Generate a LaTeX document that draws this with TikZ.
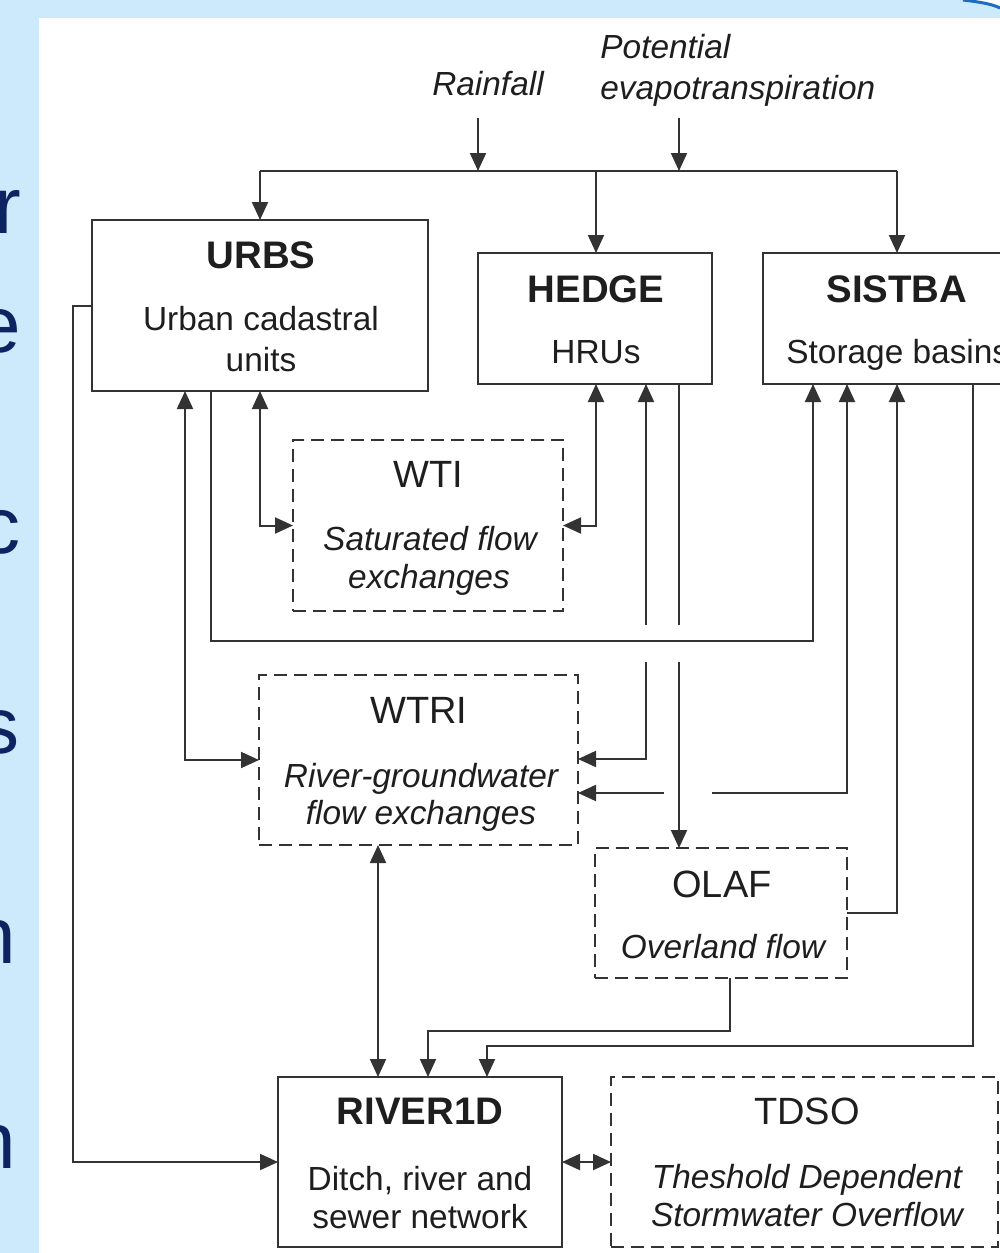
\documentclass[tikz,border=0pt]{standalone}
\usepackage{fontspec}
\setmainfont{Liberation Sans}
\usetikzlibrary{arrows.meta}
\definecolor{bg}{HTML}{CCEAFB}
\definecolor{ln}{HTML}{333333}
\definecolor{tx}{HTML}{1E1E1E}
\definecolor{navy}{HTML}{0C2461}
\definecolor{framec}{HTML}{1C6DC0}
\begin{document}
\begin{tikzpicture}[x=0.5pt,y=-0.5pt,
  box/.style={draw=ln,line width=1pt,inner sep=0pt,outer sep=0pt},
  dbox/.style={box,dash pattern=on 6.5pt off 3.5pt},
  ttlb/.style={font=\fontsize{19.2}{23}\selectfont\bfseries,text=tx,anchor=base,inner sep=0pt},
  ttln/.style={font=\fontsize{19}{23}\selectfont,text=tx,anchor=base,inner sep=0pt},
  subn/.style={font=\fontsize{16.7}{20}\selectfont,text=tx,anchor=base,inner sep=0pt},
  subi/.style={font=\fontsize{16.7}{20}\selectfont\itshape,text=tx,anchor=base,inner sep=0pt},
  big/.style={font=\fontsize{40}{48}\selectfont,text=navy,anchor=base east,inner sep=0pt},
  conn/.style={draw=ln,line width=1pt},
  arr/.style={conn,-{Triangle[length=9pt,width=8pt]}},
  darr/.style={conn,{Triangle[length=9pt,width=8pt]}-{Triangle[length=9pt,width=8pt]}},
  gap/.style={draw=white,line width=5pt}]
\useasboundingbox (0,0) rectangle (1000,1253);
\clip (0,0) rectangle (1000,1253);
% background
\fill[bg] (0,0) rectangle (1000,1253);
\fill[white] (39,18) rectangle (1000,1253);
\fill[white] (963,0) .. controls (980,2) and (992,4) .. (1000,8) -- (1000,0) -- cycle;
\draw[framec,line width=1.5pt] (963,0) .. controls (980,2) and (992,4) .. (1000,8);
% cut-off slide letters
\node[big] (l1) at (22,233) {r};
\node[big] (l2) at (21,352) {e};
\node[big] (l3) at (21,553) {c};
\node[big] (l4) at (20,753) {s};
\node[big] (l5) at (16,963) {n};
\node[big] (l6) at (16,1168) {n};
% boxes
\node[box,minimum width=168pt,minimum height=85.5pt] (urbs) at (260,305.5) {};
\node[box,minimum width=117pt,minimum height=65.5pt] (hedge) at (595,318.5) {};
\node[box,minimum width=138.5pt,minimum height=65.5pt] (sistba) at (901.5,318.5) {};
\node[dbox,minimum width=135pt,minimum height=85.5pt] (wti) at (428,525.5) {};
\node[dbox,minimum width=159.5pt,minimum height=85pt] (wtri) at (418.5,760) {};
\node[dbox,minimum width=126pt,minimum height=65pt] (olaf) at (721,913) {};
\node[box,minimum width=142pt,minimum height=85pt] (river) at (420,1162) {};
\node[dbox,minimum width=193.5pt,minimum height=85pt] (tdso) at (804.5,1162) {};
% texts
\node[subi] (rain) at (488,95) {Rainfall};
\node[subi,anchor=base west] (petA) at (600,58) {Potential};
\node[subi,anchor=base west] (petB) at (600,99) {evapotranspiration};
\node[ttlb] (urbsT) at (261,268) {URBS};
\node[subn] (urbsA) at (261,330) {Urban cadastral};
\node[subn] (urbsB) at (261,371) {units};
\node[ttlb] (hedgeT) at (596,302) {HEDGE};
\node[subn] (hedgeA) at (596,363) {HRUs};
\node[ttlb] (sistbaT) at (897,302) {SISTBA};
\node[subn,anchor=base west] (sistbaA) at (786,363) {Storage basins};
\node[ttln] (wtiT) at (428,487) {WTI};
\node[subi] (wtiA) at (430,550) {Saturated flow};
\node[subi] (wtiB) at (429,588) {exchanges};
\node[ttln] (wtriT) at (419,723) {WTRI};
\node[subi] (wtriA) at (421,787) {River-groundwater};
\node[subi] (wtriB) at (421,824) {flow exchanges};
\node[ttln] (olafT) at (722,897) {OLAF};
\node[subi] (olafA) at (723,958) {Overland flow};
\node[ttlb] (riverT) at (420,1124) {RIVER1D};
\node[subn] (riverA) at (420,1190) {Ditch, river and};
\node[subn] (riverB) at (420,1228) {sewer network};
\node[ttln] (tdsoT) at (807,1124) {TDSO};
\node[subi] (tdsoA) at (807,1188) {Theshold Dependent};
\node[subi] (tdsoB) at (807,1226) {Stormwater Overflow};
% inputs
\coordinate (rf) at (478,118);
\coordinate (pe) at (679,118);
\coordinate (dl) at (260,171);
\coordinate (dr) at (897,171);
\draw[arr] (rf) -- (rf |- dl);
\draw[arr] (pe) -- (pe |- dl);
\draw[conn] (dl) -- (dr);
\draw[arr] (dl) -- (urbs.north);
\draw[arr] (596,171) -- (596,0 |- hedge.north);
\draw[arr] (dr) -- (897,0 |- sistba.north);
% connectors
\draw[arr] (urbs.west) -- ++(-19,0) |- (river.west);
\draw[darr] (185,0 |- urbs.south) |- (wtri.west);
\draw[darr] (260,0 |- urbs.south) |- (wti.west);
\draw[darr] (596,0 |- hedge.south) |- (wti.east);
\draw[darr] (847,0 |- sistba.south) |- (wtri.east |- 0,793);
\draw[gap] (664,793) -- (712,793);
\draw[arr] (679,0 |- hedge.south) -- (679,0 |- olaf.north);
\draw[darr] (646,0 |- hedge.south) |- (wtri.east |- 0,759);
\draw[gap] (646,625) -- (646,662);
\draw[gap] (679,625) -- (679,662);
\draw[arr] (211,0 |- urbs.south) -- (211,641) -| (813,0 |- sistba.south);
\draw[arr] (olaf.east) -| (897,0 |- sistba.south);
\draw[arr] (973,0 |- sistba.south) -- (973,1046) -| (487,0 |- river.north);
\draw[arr] (730,0 |- olaf.south) -- (730,1031) -| (428,0 |- river.north);
\draw[darr] (378,0 |- wtri.south) -- (378,0 |- river.north);
\draw[darr] (river.east) -- (tdso.west);
\end{tikzpicture}
\end{document}
